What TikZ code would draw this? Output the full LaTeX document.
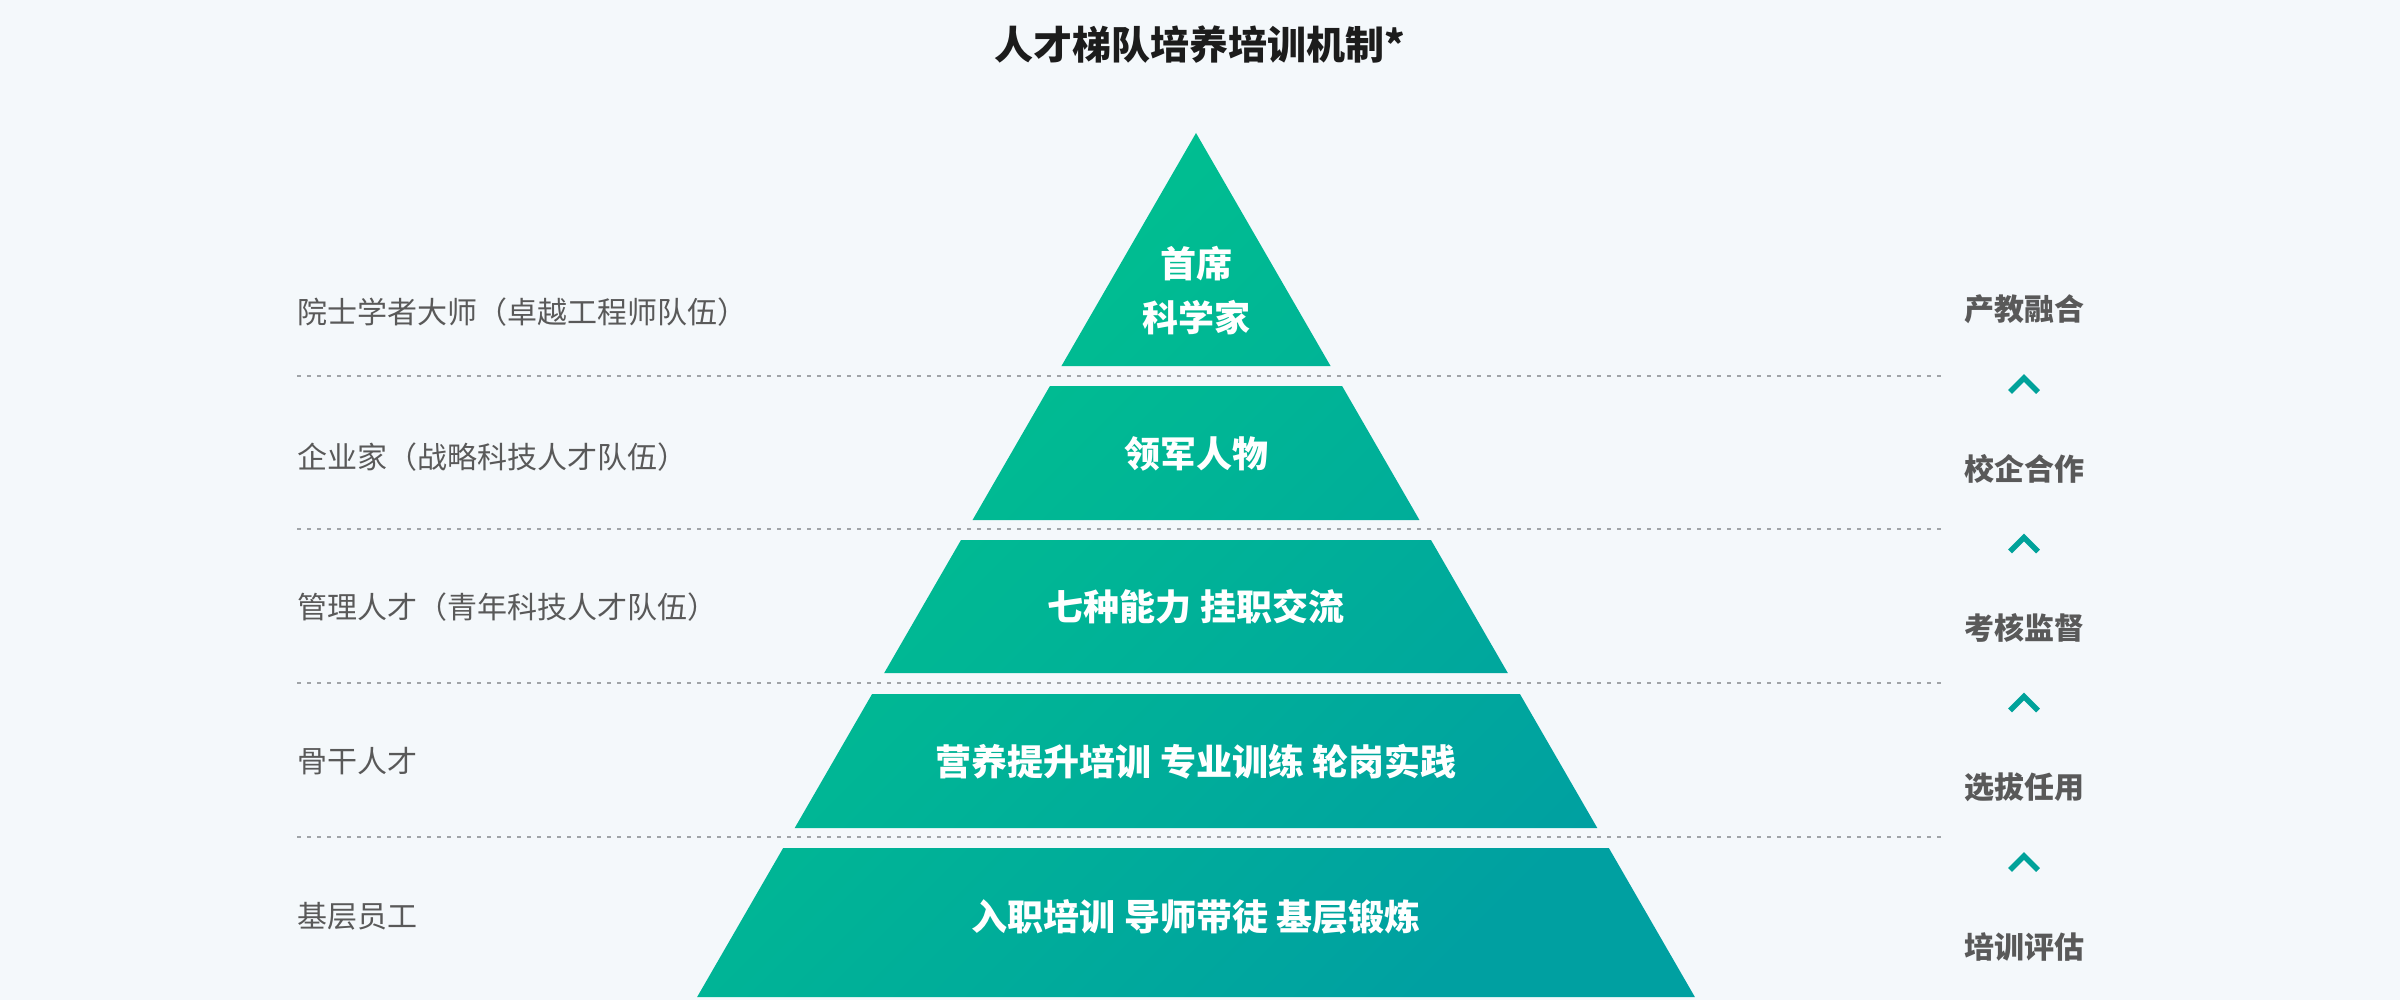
\documentclass[tikz,border=0pt]{standalone}
\usepackage{fontspec}
\setmainfont{Noto Sans CJK SC}
\usepackage{tikz}
\usetikzlibrary{positioning,calc}
\definecolor{bgcol}{HTML}{F4F8FB}
\definecolor{pyrtop}{HTML}{00C48D}
\definecolor{pyrbot}{HTML}{00A0A1}
\definecolor{chevcol}{HTML}{00A29A}
\definecolor{labcol}{HTML}{595959}
\definecolor{dotcol}{HTML}{A0A4A8}
\definecolor{titlecol}{HTML}{1C1C1C}

\begin{document}
\begin{tikzpicture}[x=1pt,y=-1pt,
  tiertext/.style={text=white,font=\bfseries\fontsize{36}{54}\selectfont,align=center,inner sep=0pt},
  sidelabel/.style={anchor=west,text=labcol,font=\fontsize{30}{34}\selectfont,inner sep=0pt},
  stagelabel/.style={text=labcol,font=\bfseries\fontsize{30}{34}\selectfont,inner sep=0pt},
  dotline/.style={draw=dotcol,line width=2pt,dash pattern=on 4pt off 6pt},
  chevron/.style={draw=chevcol,line width=5.5pt}]
  \fill[bgcol] (0,0) rectangle (2400,1000);
  \node[font=\bfseries\fontsize{39}{46}\selectfont,text=titlecol] (title) at (1200,45) {人才梯队培养培训机制*};
  \shade[top color=pyrtop,bottom color=pyrbot,shading angle=45]
    \foreach \t/\b in {133/366,386/520,540/673,694/828,848/997}
      {({1196-0.5774*(\t-133)},\t) -- ({1196+0.5774*(\t-133)},\t) -- ({1196+0.5774*(\b-133)},\b) -- ({1196-0.5774*(\b-133)},\b) -- cycle};
  \node[tiertext] (t1) at (1196,291) {首席\\科学家};
  \node[tiertext] (t2) at (1196,454) {领军人物};
  \node[tiertext] (t3) at (1196,607) {七种能力 挂职交流};
  \node[tiertext] (t4) at (1196,762) {营养提升培训 专业训练 轮岗实践};
  \node[tiertext] (t5) at (1196,917) {入职培训 导师带徒 基层锻炼};
  \foreach \y in {376,529,683,837}
    \draw[dotline] (297,\y) -- (1943,\y);
  \foreach \n/\y/\s in {l1/312/院士学者大师（卓越工程师队伍）,l2/457/企业家（战略科技人才队伍）,l3/607/管理人才（青年科技人才队伍）,l4/761/骨干人才,l5/916/基层员工}
    \node[sidelabel] (\n) at (297,\y) {\s};
  \foreach \n/\y/\s in {r1/309/产教融合,r2/469/校企合作,r3/628/考核监督,r4/787/选拔任用,r5/947/培训评估}
    \node[stagelabel] (\n) at (2024,\y) {\s};
  \foreach \a/\b in {r1/r2,r2/r3,r3/r4,r4/r5}
    \draw[chevron] ($(\a)!0.5!(\b)+(-14,3)$) -- ++(14,-14) -- ++(14,14);
\end{tikzpicture}
\end{document}
